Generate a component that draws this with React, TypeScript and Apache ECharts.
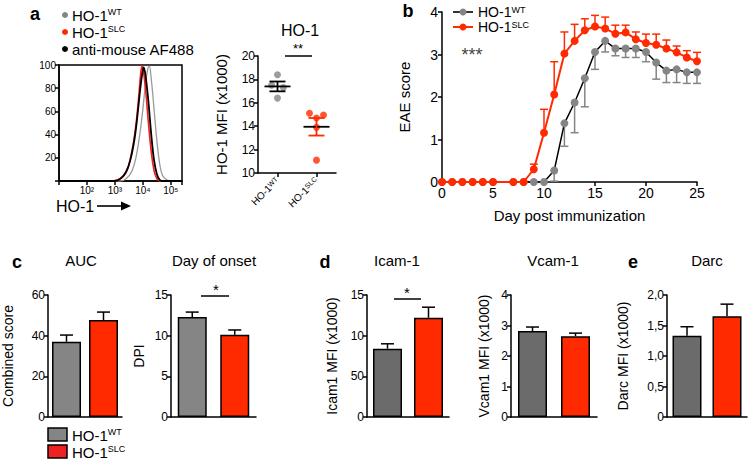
import React, { useEffect, useRef } from 'react';
import * as echarts from 'echarts';

const F = '"Liberation Sans", Arial, Helvetica, sans-serif';
const RED = '#ff2a00';
const GRAY = '#858585';
const DGRAY = '#6b6b6b';

// ---- panel a: histogram (x in log10 units, y = % of max)
const histTickLabels: Record<number, string> = { 2: '10²', 3: '10³', 4: '10⁴', 5: '10⁵' };
const histGray = [[1, 0], [3.2, 0], [3.4, 2], [3.6, 8], [3.75, 20], [3.9, 42], [4.0, 62], [4.1, 85], [4.18, 97], [4.23, 99], [4.3, 88], [4.4, 62], [4.5, 35], [4.6, 15], [4.7, 5], [4.85, 1], [5.0, 0], [5.4, 0]];
const histRed = [[1, 0], [2.9, 0], [3.1, 1], [3.3, 4], [3.45, 10], [3.55, 19], [3.65, 31], [3.75, 48], [3.85, 72], [3.92, 92], [3.97, 99], [4.02, 95], [4.1, 78], [4.2, 50], [4.3, 25], [4.4, 9], [4.5, 2], [4.6, 0], [5.4, 0]];
const histBlack = [[1, 0], [3.0, 0], [3.2, 2], [3.4, 8], [3.55, 18], [3.7, 36], [3.8, 55], [3.9, 78], [3.98, 93], [4.03, 98], [4.1, 90], [4.2, 68], [4.3, 40], [4.4, 18], [4.5, 6], [4.6, 1], [4.7, 0], [5.4, 0]];

// ---- panel a: HO-1 MFI scatter
const groups = ['WT', 'SLC'];
const wtMfi = [18.4, 17.5, 17.3, 16.4];
const wtJitter = [0, -0.15, 0.15, 0];
const slcMfi = [15.1, 14.95, 14.7, 13.9, 11.1];
const slcJitter = [-0.18, 0.18, 0, 0, 0];
const mfiMean = [17.4, 13.95];
const mfiSem = [0.42, 0.75];

// ---- panel b: EAE score
const days = [0, 1, 2, 3, 4, 5, 7, 8, 9, 10, 11, 12, 13, 14, 15, 16, 17, 18, 19, 20, 21, 22, 23, 24, 25];
const wtScore = [0, 0, 0, 0, 0, 0, 0, 0, 0, 0, 0.27, 1.38, 1.87, 2.44, 3.06, 3.32, 3.14, 3.14, 3.14, 3.06, 2.81, 2.62, 2.65, 2.58, 2.58];
const wtSem = [0, 0, 0, 0, 0, 0, 0, 0, 0, 0, 0.25, 0.54, 0.71, 0.67, 0.41, 0.26, 0.17, 0.21, 0.21, 0.23, 0.39, 0.28, 0.31, 0.26, 0.26];
const slcScore = [0, 0, 0, 0, 0, 0, 0, 0, 0.3, 1.16, 2.06, 3.02, 3.32, 3.57, 3.66, 3.61, 3.49, 3.52, 3.36, 3.27, 3.23, 3.14, 3.05, 2.93, 2.84];
const slcSem = [0, 0, 0, 0, 0, 0, 0, 0, 0.12, 0.55, 0.77, 0.51, 0.39, 0.27, 0.26, 0.27, 0.2, 0.17, 0.17, 0.21, 0.25, 0.2, 0.15, 0.16, 0.21];

// ---- panels c, d, e: bars (WT, SLC)
const aucMean = [37, 47.7];
const aucSem = [3.3, 3.9];
const onsetMean = [12.3, 10.1];
const onsetSem = [0.6, 0.6];
const icamMean = [8.4, 12.2];
const icamSem = [0.6, 1.3];
const icamTickLabels: Record<number, string> = { 0: '0', 5: '50', 10: '10', 15: '15' };
const vcamMean = [2.82, 2.65];
const vcamSem = [0.13, 0.1];
const darcMean = [1.33, 1.65];
const darcSem = [0.15, 0.2];

const axLine = { show: true, lineStyle: { color: '#000', width: 1.5 } };
const axTick = { show: true, length: 4, lineStyle: { color: '#000', width: 1.5 } };

const supText = (x: number, y: number, main: string, sup: string, size = 15) => ({
  type: 'text',
  x,
  y,
  style: {
    text: `{m|${main}}{s|${sup}}`,
    rich: {
      m: { fontSize: size, fontFamily: F, fill: '#000', lineHeight: size },
      s: { fontSize: Math.round(size * 0.62), fontFamily: F, fill: '#000', verticalAlign: 'top', lineHeight: Math.round(size * 0.62) },
    },
    verticalAlign: 'middle',
    align: 'left',
  },
});

const plainText = (x: number, y: number, text: string, size = 14, align = 'center', bold = false, fill = '#000') => ({
  type: 'text',
  x,
  y,
  style: { text, fontSize: size, fontFamily: F, fontWeight: bold ? 'bold' : 'normal', fill, align, verticalAlign: 'middle' },
});

const hline = (x1: number, x2: number, y: number) => ({
  type: 'line',
  shape: { x1, y1: y, x2, y2: y },
  style: { stroke: '#000', lineWidth: 1.5 },
});

const errRender = (dir: number, cap: number, color: string) => (params: any, api: any) => {
  const x = api.value(0);
  const m = api.value(1);
  const s = api.value(2);
  if (!s) return { type: 'group', children: [] };
  const a = api.coord([x, m]);
  const b = api.coord([x, m + dir * s]);
  return {
    type: 'group',
    children: [
      { type: 'line', shape: { x1: a[0], y1: a[1], x2: b[0], y2: b[1] }, style: { stroke: color, lineWidth: 1.5 } },
      { type: 'line', shape: { x1: b[0] - cap, y1: b[1], x2: b[0] + cap, y2: b[1] }, style: { stroke: color, lineWidth: 1.5 } },
    ],
  };
};

const meanSemRender = (params: any, api: any) => {
  const x = api.value(0);
  const m = api.value(1);
  const s = api.value(2);
  const c = api.coord([x, m]);
  const hi = api.coord([x, m + s]);
  const lo = api.coord([x, m - s]);
  const color = params.dataIndex === 0 ? '#000' : RED;
  const st = { stroke: color, lineWidth: 1.8 };
  return {
    type: 'group',
    children: [
      { type: 'line', shape: { x1: c[0] - 13, y1: c[1], x2: c[0] + 13, y2: c[1] }, style: { stroke: '#000', lineWidth: 1.8 } },
      { type: 'line', shape: { x1: c[0], y1: hi[1], x2: c[0], y2: lo[1] }, style: st },
      { type: 'line', shape: { x1: c[0] - 8, y1: hi[1], x2: c[0] + 8, y2: hi[1] }, style: st },
      { type: 'line', shape: { x1: c[0] - 8, y1: lo[1], x2: c[0] + 8, y2: lo[1] }, style: st },
    ],
  };
};

export default function App() {
  const ref = useRef<HTMLDivElement>(null);

  useEffect(() => {
    if (!ref.current) return;
    const chart = echarts.init(ref.current, undefined, { renderer: 'svg' });

    const grids = [
      { left: 59, top: 65, width: 123, height: 116, show: true, borderColor: '#000', borderWidth: 1.5 },
      { left: 258, top: 56, width: 78, height: 117 },
      { left: 442, top: 12, width: 255, height: 170 },
      { left: 42, top: 295, width: 80, height: 122 },
      { left: 171, top: 295, width: 85, height: 122 },
      { left: 367, top: 295, width: 82, height: 122 },
      { left: 511, top: 295, width: 86, height: 122 },
      { left: 667, top: 295, width: 80, height: 122 },
    ];

    const barX = (gi: number) => ({
      type: 'category',
      gridIndex: gi,
      data: groups,
      axisLine: axLine,
      axisTick: { show: false },
      axisLabel: { show: false },
    });

    const barY = (gi: number, max: number, interval: number, name: string, nameGap: number, fmt?: (v: number) => string) => ({
      type: 'value',
      gridIndex: gi,
      min: 0,
      max,
      interval,
      name,
      nameLocation: 'middle',
      nameGap,
      nameTextStyle: { fontSize: 14, fontFamily: F, color: '#000' },
      axisLine: axLine,
      axisTick: axTick,
      splitLine: { show: false },
      axisLabel: { fontSize: 12, fontFamily: F, color: '#000', margin: 3, formatter: fmt },
    });

    const barSeries = (gi: number, means: number[], grayColor: string) => ({
      type: 'bar',
      xAxisIndex: gi + 1,
      yAxisIndex: gi,
      barWidth: 29,
      data: means.map((v, i) => ({ value: v, itemStyle: { color: i === 0 ? grayColor : RED } })),
      itemStyle: { borderColor: '#000', borderWidth: 1.5 },
      z: 3,
    });

    const barErr = (gi: number, means: number[], sems: number[]) => ({
      type: 'custom',
      xAxisIndex: gi + 1,
      yAxisIndex: gi,
      encode: { x: 0, y: 1 },
      data: means.map((m, i) => [i, m, sems[i]]),
      renderItem: errRender(1, 6.5, '#000'),
      z: 2,
    });

    const option: any = {
      animation: false,
      backgroundColor: '#fff',
      textStyle: { fontFamily: F },
      grid: grids,
      xAxis: [
        {
          type: 'value', gridIndex: 0, min: 1, max: 5.4, interval: 1,
          axisLine: axLine, axisTick: axTick, splitLine: { show: false },
          axisLabel: {
            fontSize: 10, fontFamily: F, color: '#000', margin: 4,
            formatter: (v: number) => histTickLabels[v] || '',
          },
        },
        {
          type: 'category', gridIndex: 1, data: groups,
          axisLine: axLine,
          axisTick: { show: true, alignWithLabel: true, length: 4, lineStyle: { color: '#000', width: 1.5 } },
          axisLabel: {
            rotate: 45, margin: 6, interval: 0,
            formatter: (v: string) => `{m|HO-1}{s|${v}}`,
            rich: {
              m: { fontSize: 10, fontFamily: F, color: '#000' },
              s: { fontSize: 7, fontFamily: F, color: '#000', verticalAlign: 'top' },
            },
          },
        },
        { type: 'value', gridIndex: 1, min: 0.5, max: 2.5, show: false },
        {
          type: 'value', gridIndex: 2, min: 0, max: 25, interval: 5,
          name: 'Day post immunization', nameLocation: 'middle', nameGap: 26,
          nameTextStyle: { fontSize: 15, fontFamily: F, color: '#000' },
          axisLine: axLine, axisTick: axTick, splitLine: { show: false },
          axisLabel: { fontSize: 14, fontFamily: F, color: '#000', margin: 4 },
        },
        barX(3), barX(4), barX(5), barX(6), barX(7),
      ],
      yAxis: [
        {
          type: 'value', gridIndex: 0, min: 0, max: 100, interval: 20,
          axisLine: axLine, axisTick: axTick, splitLine: { show: false },
          axisLabel: { fontSize: 10, fontFamily: F, color: '#000', margin: 3, formatter: (v: number) => (v === 0 ? '' : String(v)) },
        },
        {
          type: 'value', gridIndex: 1, min: 10, max: 20, interval: 2,
          name: 'HO-1 MFI (x1000)', nameLocation: 'middle', nameGap: 29,
          nameTextStyle: { fontSize: 15, fontFamily: F, color: '#000' },
          axisLine: axLine, axisTick: axTick, splitLine: { show: false },
          axisLabel: { fontSize: 12, fontFamily: F, color: '#000', margin: 3 },
        },
        {
          type: 'value', gridIndex: 2, min: 0, max: 4, interval: 1,
          name: 'EAE score', nameLocation: 'middle', nameGap: 30,
          nameTextStyle: { fontSize: 15, fontFamily: F, color: '#000' },
          axisLine: axLine, axisTick: axTick, splitLine: { show: false },
          axisLabel: { fontSize: 14, fontFamily: F, color: '#000', margin: 4 },
        },
        barY(3, 60, 20, 'Combined score', 33),
        barY(4, 15, 5, 'DPI', 25),
        barY(5, 15, 5, 'Icam1 MFI (x1000)', 28, (v: number) => icamTickLabels[v] ?? String(v)),
        barY(6, 4, 1, 'Vcam1 MFI (x1000)', 20),
        barY(7, 2, 0.5, 'Darc MFI (x1000)', 37, (v: number) => (v === 0 ? '0' : v.toFixed(1).replace('.', ','))),
      ],
      series: [
        // histogram
        { type: 'line', xAxisIndex: 0, yAxisIndex: 0, data: histGray, smooth: 0.4, showSymbol: false, lineStyle: { color: '#9a9a9a', width: 1.3 }, z: 2 },
        { type: 'line', xAxisIndex: 0, yAxisIndex: 0, data: histRed, smooth: 0.4, showSymbol: false, lineStyle: { color: '#ff1a1a', width: 1.6 }, z: 3 },
        { type: 'line', xAxisIndex: 0, yAxisIndex: 0, data: histBlack, smooth: 0.4, showSymbol: false, lineStyle: { color: '#000', width: 1.8 }, z: 4 },
        // scatter
        {
          type: 'scatter', xAxisIndex: 2, yAxisIndex: 1, symbolSize: 7,
          data: wtMfi.map((v, i) => [1 + wtJitter[i], v]), itemStyle: { color: GRAY }, z: 2,
        },
        {
          type: 'scatter', xAxisIndex: 2, yAxisIndex: 1, symbolSize: 7,
          data: slcMfi.map((v, i) => [2 + slcJitter[i], v]), itemStyle: { color: RED }, z: 2,
        },
        {
          type: 'custom', xAxisIndex: 2, yAxisIndex: 1, encode: { x: 0, y: 1 },
          data: mfiMean.map((m, i) => [i + 1, m, mfiSem[i]]), renderItem: meanSemRender, z: 3,
        },
        // EAE
        {
          type: 'custom', xAxisIndex: 3, yAxisIndex: 2, encode: { x: 0, y: 1 },
          data: days.map((d, i) => [d, wtScore[i], wtSem[i]]), renderItem: errRender(-1, 4, GRAY), z: 1,
        },
        {
          type: 'line', xAxisIndex: 3, yAxisIndex: 2, name: 'HO-1WT',
          data: days.map((d, i) => [d, wtScore[i]]), symbol: 'circle', symbolSize: 8,
          lineStyle: { color: '#000', width: 1.5 }, itemStyle: { color: GRAY }, z: 2,
        },
        {
          type: 'custom', xAxisIndex: 3, yAxisIndex: 2, encode: { x: 0, y: 1 },
          data: days.map((d, i) => [d, slcScore[i], slcSem[i]]), renderItem: errRender(1, 4, RED), z: 3,
        },
        {
          type: 'line', xAxisIndex: 3, yAxisIndex: 2, name: 'HO-1SLC',
          data: days.map((d, i) => [d, slcScore[i]]), symbol: 'circle', symbolSize: 8,
          lineStyle: { color: RED, width: 2 }, itemStyle: { color: RED }, z: 4,
        },
        // bars
        barErr(3, aucMean, aucSem), barSeries(3, aucMean, GRAY),
        barErr(4, onsetMean, onsetSem), barSeries(4, onsetMean, GRAY),
        barErr(5, icamMean, icamSem), barSeries(5, icamMean, DGRAY),
        barErr(6, vcamMean, vcamSem), barSeries(6, vcamMean, DGRAY),
        barErr(7, darcMean, darcSem), barSeries(7, darcMean, DGRAY),
      ],
      graphic: [
        // panel letters
        plainText(35, 14, 'a', 18, 'center', true),
        plainText(408, 11, 'b', 18, 'center', true),
        plainText(17, 262, 'c', 18, 'center', true),
        plainText(325, 262, 'd', 18, 'center', true),
        plainText(633, 262, 'e', 18, 'center', true),
        // panel a legend
        { type: 'circle', shape: { cx: 65, cy: 15, r: 3 }, style: { fill: GRAY } },
        { type: 'circle', shape: { cx: 65, cy: 32, r: 3 }, style: { fill: RED } },
        { type: 'circle', shape: { cx: 65, cy: 49, r: 3 }, style: { fill: '#000' } },
        supText(72, 15, 'HO-1', 'WT', 15),
        supText(72, 32, 'HO-1', 'SLC', 15),
        plainText(72, 49, 'anti-mouse AF488', 15, 'left'),
        // histogram x label
        plainText(56, 206, 'HO-1', 16, 'left'),
        { type: 'line', shape: { x1: 97, y1: 206, x2: 124, y2: 206 }, style: { stroke: '#000', lineWidth: 1.6 } },
        { type: 'polygon', shape: { points: [[121, 201.5], [131, 206], [121, 210.5]] }, style: { fill: '#000' } },
        // scatter title + significance
        plainText(300, 30, 'HO-1', 16),
        hline(285, 312, 56),
        plainText(298, 48, '**', 13),
        // panel b legend
        { type: 'line', shape: { x1: 453, y1: 12, x2: 473, y2: 12 }, style: { stroke: '#333', lineWidth: 2 } },
        { type: 'circle', shape: { cx: 463, cy: 12, r: 3.5 }, style: { fill: GRAY } },
        supText(478, 12, 'HO-1', 'WT', 14),
        { type: 'line', shape: { x1: 453, y1: 27, x2: 473, y2: 27 }, style: { stroke: RED, lineWidth: 2 } },
        { type: 'circle', shape: { cx: 463, cy: 27, r: 3.5 }, style: { fill: RED } },
        supText(478, 27, 'HO-1', 'SLC', 14),
        plainText(472, 55, '***', 18, 'center', false, '#444'),
        // panel c
        plainText(81, 260, 'AUC', 15),
        plainText(214, 260, 'Day of onset', 15),
        hline(201, 229, 296),
        plainText(216, 289, '*', 15),
        { type: 'rect', shape: { x: 48, y: 428, width: 19, height: 13 }, style: { fill: GRAY, stroke: '#000', lineWidth: 1.5 } },
        { type: 'rect', shape: { x: 48, y: 445, width: 19, height: 13 }, style: { fill: '#ee2222', stroke: '#000', lineWidth: 1.5 } },
        supText(72, 435, 'HO-1', 'WT', 15),
        supText(72, 452, 'HO-1', 'SLC', 15),
        // panel d
        plainText(397, 260, 'Icam-1', 15),
        hline(394, 421, 299),
        plainText(407, 292, '*', 15),
        plainText(553, 260, 'Vcam-1', 15),
        // panel e
        plainText(707, 260, 'Darc', 15),
      ],
    };

    chart.setOption(option);
    return () => chart.dispose();
  }, []);

  return <div ref={ref} style={{ position: 'fixed', left: 0, top: 0, width: 749, height: 460 }} />;
}
